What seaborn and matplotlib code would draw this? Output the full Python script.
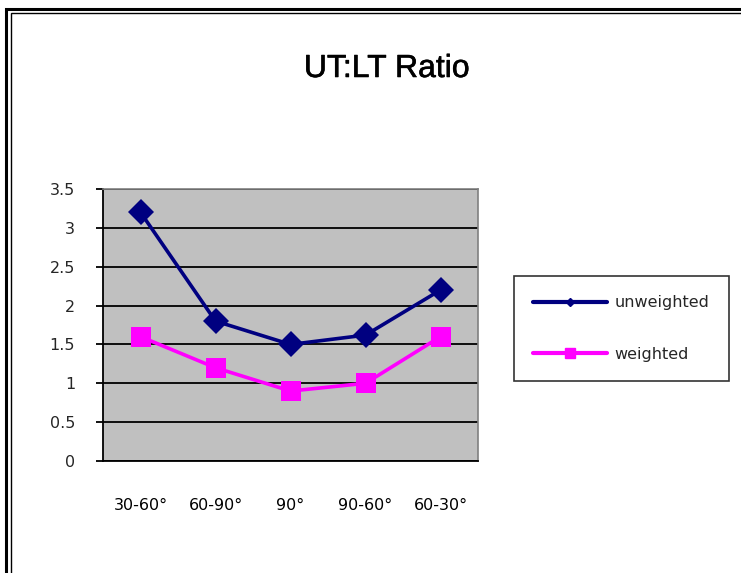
import matplotlib
matplotlib.use("Agg")
import matplotlib.pyplot as plt
import matplotlib.patheffects as pe
import seaborn as sns
import pandas as pd
from matplotlib.patches import Rectangle
from matplotlib.lines import Line2D

categories = ["30-60°", "60-90°", "90°", "90-60°", "60-30°"]
unweighted = [3.2, 1.8, 1.5, 1.62, 2.2]
weighted = [1.6, 1.2, 0.9, 1.0, 1.6]
series_names = ["unweighted", "weighted"]
y_ticks = [0, 0.5, 1, 1.5, 2, 2.5, 3, 3.5]
y_ticklabels = ["0", "0.5", "1", "1.5", "2", "2.5", "3", "3.5"]

df = pd.DataFrame({
    "cat": categories * 2,
    "value": unweighted + weighted,
    "series": [series_names[0]] * len(categories) + [series_names[1]] * len(categories),
})
df["pos"] = list(range(len(categories))) * 2

sns.set_theme(style="white")
plt.rcParams["font.family"] = ["DejaVu Sans"]

fig = plt.figure(figsize=(7.41, 5.73), dpi=100)
ax = fig.add_axes([103 / 741, 1 - 461 / 573, 375 / 741, (461 - 189) / 573])
ax.set_facecolor("#C0C0C0")

palette = {"unweighted": "#000080", "weighted": "#FF00FF"}
markers = {"unweighted": "D", "weighted": "s"}
sns.lineplot(data=df, x="pos", y="value", hue="series", style="series",
             palette=palette, markers=markers, dashes=False, linewidth=2.6,
             markersize=13, markeredgewidth=0, ax=ax, legend=False, zorder=3)
for ln in ax.lines:
    if ln.get_marker() == "s":
        ln.set_markersize(15)

ax.set_xlim(-0.5, len(categories) - 0.5)
ax.set_ylim(0, 3.5)
ax.set_yticks(y_ticks)
ax.set_yticklabels(y_ticklabels, fontsize=11.5)
ax.yaxis.grid(True, color="black", linewidth=1.3)
ax.set_axisbelow(True)
ax.set_xticks(range(len(categories)))
ax.set_xticklabels(categories, fontsize=11.5)
ax.set_xticks([i - 0.5 for i in range(len(categories) + 1)], minor=True)
ax.tick_params(axis="x", which="major", length=0, pad=27, colors="black")
ax.tick_params(axis="x", which="minor", length=5, width=1.3, direction="out", color="black")
ax.tick_params(axis="y", length=5, width=1.3, direction="out", color="black", pad=15, left=True)
ax.set_xlabel("")
ax.set_ylabel("")
for s in ["top", "right"]:
    ax.spines[s].set_color("#808080")
    ax.spines[s].set_linewidth(1.2)
for s in ["left", "bottom"]:
    ax.spines[s].set_color("black")
    ax.spines[s].set_linewidth(1.3)

fig.text(387 / 741, 1 - 69 / 573, "UT:LT Ratio", ha="center", va="center",
         fontsize=23, color="black", family="Liberation Sans",
         path_effects=[pe.withStroke(linewidth=0.4, foreground="black")])

handles = [
    Line2D([0], [0], color="#000080", lw=3, marker="D", markersize=4),
    Line2D([0], [0], color="#FF00FF", lw=3, marker="s", markersize=7),
]
leg = fig.legend(handles, series_names, loc="upper left",
                 bbox_to_anchor=(514 / 741, 1 - 276 / 573), frameon=True,
                 fancybox=False, edgecolor="black", fontsize=11.5,
                 handlelength=4.6, labelspacing=2.3, borderpad=1.2,
                 handletextpad=0.5, borderaxespad=0)
leg.get_frame().set_linewidth(1.2)

# outer double border
fig.patches.append(Rectangle((6 / 741, -0.1), 1.2, 1 - 9 / 573 + 0.1,
                             transform=fig.transFigure, fill=False,
                             edgecolor="black", linewidth=2.2))
fig.patches.append(Rectangle((11 / 741, -0.1), 1.2, 1 - 12.5 / 573 + 0.1,
                             transform=fig.transFigure, fill=False,
                             edgecolor="black", linewidth=1.0))

fig.savefig("out.png", dpi=100)
